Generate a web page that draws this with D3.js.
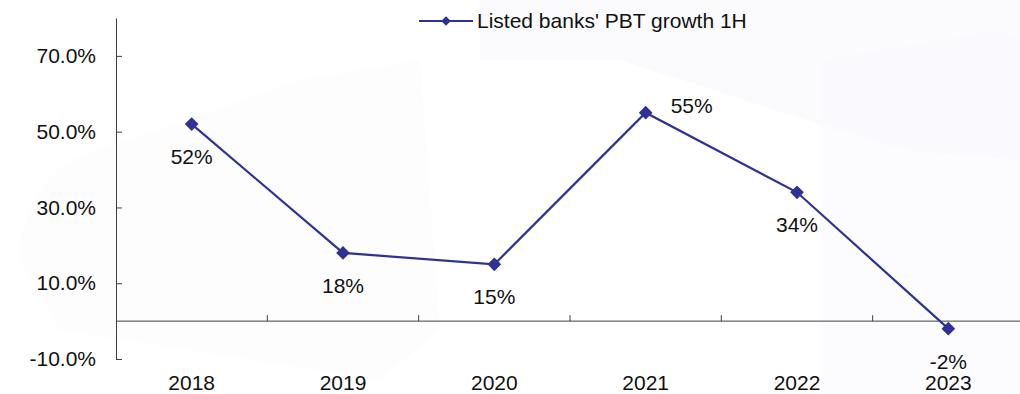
<!DOCTYPE html>
<html>
<head>
<meta charset="utf-8">
<script src="https://cdn.jsdelivr.net/npm/d3@7"></script>
<style>
  html, body { margin: 0; padding: 0; background: #ffffff; }
  svg { display: block; font-family: "Liberation Sans", Arial, sans-serif; }
</style>
</head>
<body>
<svg id="chart" width="1020" height="394"></svg>
<script>
// Listed banks' profit-before-tax growth, first half of each year (%)
const years = ["2018", "2019", "2020", "2021", "2022", "2023"];
const growth = [52, 18, 15, 55, 34, -2];
const yTicks = [-10, 10, 30, 50, 70];
const labelSide = ["below", "below", "below", "right", "below", "below"];
const seriesName = "Listed banks' PBT growth 1H";

const W = 1020, H = 394;
const plotLeft = 116, plotRight = 1024, plotTop = 18, plotBottom = 359;
const lineColor = "#2f3194";
const axisColor = "#404040";
const textColor = "#111111";
const fontSize = 21;

const svg = d3.select("#chart");

// very faint watermark shapes behind the plot
const wm = svg.append("g").attr("fill", "#f9f9fd");
wm.append("path").attr("d", "M480,0 L1020,0 L1020,160 L900,150 L620,60 L480,60 Z").attr("opacity", 0.7);
wm.append("path").attr("d", "M20,260 Q20,160 130,140 L300,80 L420,60 L440,330 L380,380 L60,330 Z").attr("opacity", 0.4);
wm.append("path").attr("d", "M820,60 L1000,30 L1020,40 L1020,394 L820,394 Z").attr("opacity", 0.5);

const x = d3.scaleBand().domain(years).range([plotLeft, plotRight]);
const y = d3.scaleLinear().domain([-10, 80]).range([plotBottom, plotTop]);
const cx = d => x(d) + x.bandwidth() / 2;

// value axis
const yAxis = d3.axisLeft(y)
  .tickValues(yTicks)
  .tickSizeInner(-6)
  .tickSizeOuter(0)
  .tickPadding(20)
  .tickFormat(d => d.toFixed(1) + "%");
const gy = svg.append("g").attr("transform", `translate(${plotLeft},0)`).call(yAxis);
gy.select(".domain").attr("stroke", axisColor);
gy.selectAll(".tick line").attr("stroke", axisColor);
gy.selectAll(".tick text")
  .attr("fill", textColor)
  .attr("font-size", fontSize)
  .attr("font-family", "Liberation Sans, Arial, sans-serif");

// category axis crossing at zero, with boundary ticks
const gx = svg.append("g").attr("transform", `translate(0,${y(0)})`);
gx.append("line").attr("x1", plotLeft).attr("x2", W).attr("stroke", axisColor);
gx.selectAll("line.bound")
  .data(years.slice(1))
  .join("line")
  .attr("class", "bound")
  .attr("x1", d => x(d)).attr("x2", d => x(d))
  .attr("y1", -6).attr("y2", 0)
  .attr("stroke", axisColor);

svg.append("g").selectAll("text")
  .data(years)
  .join("text")
  .attr("x", d => cx(d))
  .attr("y", 390)
  .attr("text-anchor", "middle")
  .attr("font-size", fontSize)
  .attr("fill", textColor)
  .text(d => d);

// series line
const pts = years.map((d, i) => ({ year: d, v: growth[i], side: labelSide[i] }));
svg.append("path")
  .datum(pts)
  .attr("fill", "none")
  .attr("stroke", lineColor)
  .attr("stroke-width", 2.2)
  .attr("d", d3.line().x(d => cx(d.year)).y(d => y(d.v)));

const diamond = d3.symbol().type(d3.symbolDiamond2).size(120);
svg.append("g").selectAll("path")
  .data(pts)
  .join("path")
  .attr("transform", d => `translate(${cx(d.year)},${y(d.v)})`)
  .attr("d", diamond)
  .attr("fill", lineColor);

// data labels
svg.append("g").selectAll("text")
  .data(pts)
  .join("text")
  .attr("x", d => d.side === "right" ? cx(d.year) + 25 : cx(d.year))
  .attr("y", d => d.side === "right" ? y(d.v) : y(d.v) + 40)
  .attr("text-anchor", d => d.side === "right" ? "start" : "middle")
  .attr("font-size", fontSize)
  .attr("fill", textColor)
  .text(d => String(d.v) + "%");

// legend
const lg = svg.append("g").attr("transform", "translate(419,21)");
lg.append("line").attr("x1", 0).attr("x2", 54).attr("stroke", lineColor).attr("stroke-width", 2.2);
lg.append("path").attr("transform", "translate(27,0)")
  .attr("d", d3.symbol().type(d3.symbolDiamond2).size(60)).attr("fill", lineColor);
lg.append("text").attr("x", 58).attr("y", 6.5)
  .attr("font-size", fontSize).attr("fill", textColor).text(seriesName);
</script>
</body>
</html>
